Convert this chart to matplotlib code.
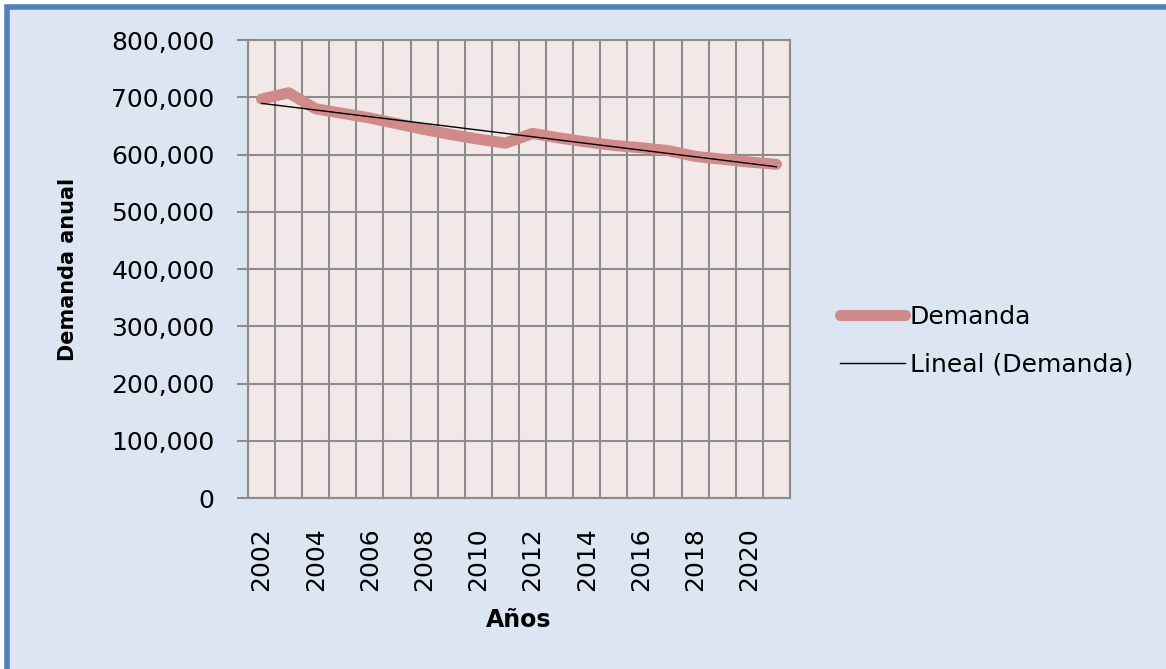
import matplotlib.pyplot as plt
import numpy as np
from matplotlib.patches import Rectangle
from matplotlib.ticker import FuncFormatter

plt.rcParams['font.family'] = ['DejaVu Sans']

years = list(range(2002, 2022))
demanda = [697000, 708000, 680000, 672000, 664000, 654000, 644000, 635000, 627000, 620000,
           637000, 629000, 622000, 616000, 612000, 607000, 597000, 592000, 587000, 583000]
y_ticks = [0, 100000, 200000, 300000, 400000, 500000, 600000, 700000, 800000]

BG = "#dce6f2"
PLOT_BG = "#f2e8e8"
GRID = "#8c8c8c"
LINE = "#d08a8a"

fig = plt.figure(figsize=(11.66, 6.69), dpi=100)
fig.patch.set_facecolor("white")
# blue framed panel, cut off at right and bottom
fig.patches.append(Rectangle((0.006, -0.1), 1.2, 1.09, transform=fig.transFigure,
                             facecolor=BG, edgecolor="#4f81bd", linewidth=4, zorder=-10))

ax = fig.add_axes([0.2127, 0.2556, 0.4648, 0.6844])
ax.set_facecolor(PLOT_BG)

x = np.arange(len(years))
ax.plot(x, demanda, color=LINE, linewidth=8, solid_capstyle="round",
        solid_joinstyle="round", label="Demanda", zorder=3)

coef = np.polyfit(x, demanda, 1)
ax.plot(x, np.polyval(coef, x), color="black", linewidth=1,
        label="Lineal (Demanda)", zorder=4)

ax.set_xlim(-0.5, len(years) - 0.5)
ax.set_ylim(0, 800000)
ax.set_yticks(y_ticks)
ax.yaxis.set_major_formatter(FuncFormatter(lambda v, p: "{:,.0f}".format(v)))

ax.set_xticks(x[::2])
ax.set_xticklabels([str(y) for y in years[::2]], rotation=90)
ax.set_xticks(np.arange(-0.5, len(years)), minor=True)
ax.tick_params(axis="x", which="major", length=0, pad=21, labelsize=18)
ax.tick_params(axis="x", which="minor", length=0)
ax.tick_params(axis="y", length=8, width=1.5, color=GRID, labelsize=18, pad=16)

ax.grid(True, axis="y", which="major", color=GRID, linewidth=1.5)
ax.grid(True, axis="x", which="minor", color=GRID, linewidth=1.5)
ax.set_axisbelow(True)
for s in ax.spines.values():
    s.set_color(GRID)
    s.set_linewidth(1.5)

ax.set_ylabel("Demanda anual", fontsize=15, fontweight="bold")
ax.yaxis.set_label_coords(-0.314, 0.5)
ax.set_xlabel("Años", fontsize=17, fontweight="bold")
ax.xaxis.set_label_coords(0.5, -0.24)

ax.legend(loc="center left", bbox_to_anchor=(1.092, 0.344), frameon=False,
          fontsize=18, handlelength=2.6, handletextpad=0.2, labelspacing=0.95,
          borderpad=0, borderaxespad=0)

fig.savefig("out.png", dpi=100, facecolor=fig.get_facecolor())
